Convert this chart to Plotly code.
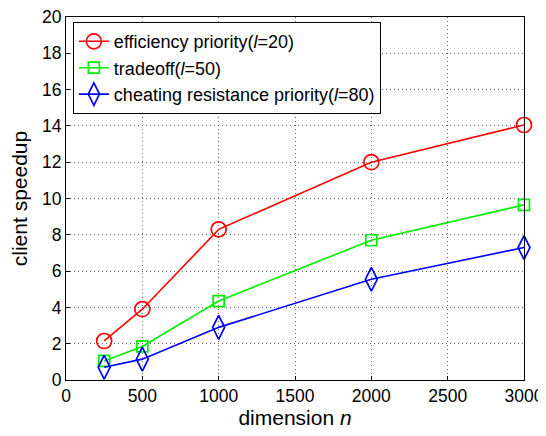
import plotly.graph_objects as go

dims = [250, 500, 1000, 2000, 3000]
eff = [2.15, 3.9, 8.3, 12.0, 14.05]
trade = [1.05, 1.85, 4.35, 7.7, 9.65]
cheat = [0.7, 1.15, 2.9, 5.55, 7.3]

names = ["efficiency priority(<i>l</i>=20)", "tradeoff(<i>l</i>=50)",
         "cheating resistance priority(<i>l</i>=80)"]
colors = ["#ff0000", "#00ee00", "#0000ff"]
symbols = ["circle-open", "square-open", "diamond-tall-open"]
sizes = [15, 11, 17]

fig = go.Figure()
for ys, nm, c, s, sz in zip([eff, trade, cheat], names, colors, symbols, sizes):
    fig.add_trace(go.Scatter(x=dims, y=ys, mode="lines+markers", name=nm,
                             cliponaxis=False,
                             line=dict(color=c, width=1.6),
                             marker=dict(symbol=s, size=sz, color=c,
                                         line=dict(color=c, width=1.7))))

axis_common = dict(showline=True, linecolor="black", linewidth=1.2, mirror=True,
                   ticks="inside", ticklen=4, tickcolor="black",
                   showgrid=True, gridcolor="#666666", griddash="1px,3px", gridwidth=1,
                   zeroline=False, tickfont=dict(size=17.5, color="black"),
                   ticklabeloverflow="allow", automargin=False)

fig.update_layout(
    width=538, height=428,
    margin=dict(l=58, r=22, t=9, b=56),
    paper_bgcolor="white", plot_bgcolor="white",
    font=dict(family="Liberation Sans, Arial, sans-serif", color="black"),
    xaxis=dict(range=[0, 3000], dtick=500,
               title=dict(text="dimension <i>n</i>", font=dict(size=21), standoff=4),
               **axis_common),
    yaxis=dict(range=[0, 20], dtick=2,
               title=dict(text="client speedup", font=dict(size=21), standoff=8),
               **axis_common),
    legend=dict(x=0.015, y=0.986, xanchor="left", yanchor="top",
                bgcolor="white", bordercolor="black", borderwidth=1,
                font=dict(size=18), tracegroupgap=0),
    showlegend=True,
)

fig.write_html("out.html")
